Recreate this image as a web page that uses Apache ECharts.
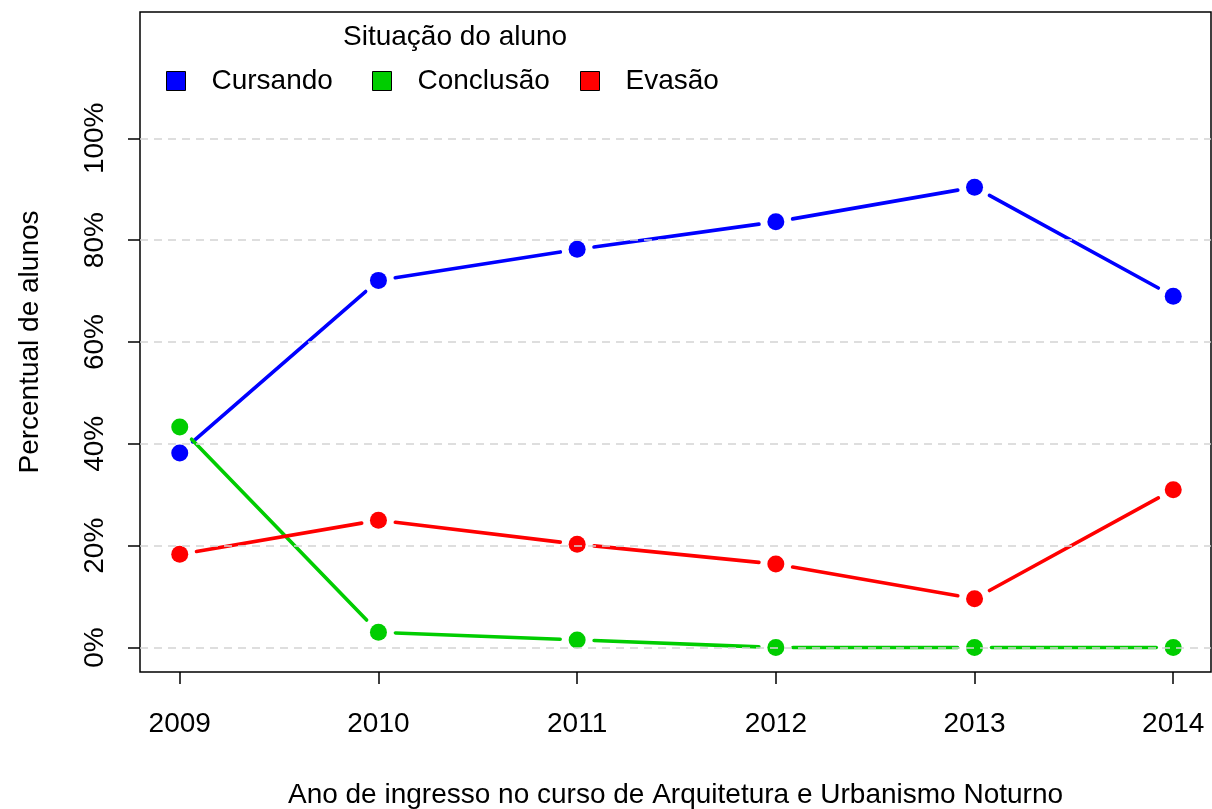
<!DOCTYPE html>
<html>
<head>
<meta charset="utf-8">
<script src="https://cdn.jsdelivr.net/npm/echarts@6/dist/echarts.min.js"></script>
<style>
  html, body { margin: 0; padding: 0; background: #fff; }
  #chart { width: 1212px; height: 809px; }
</style>
</head>
<body>
<div id="chart"></div>
<script>
// Ano de ingresso e situação dos alunos (%)
const anos = [2009, 2010, 2011, 2012, 2013, 2014];
const cursando = [38.2, 72.1, 78.2, 83.6, 90.4, 69.0];
const conclusao = [43.3, 3.0, 1.5, 0.0, 0.0, 0.0];
const evasao = [18.3, 25.0, 20.3, 16.4, 9.6, 31.0];
const yTicks = [0, 20, 40, 60, 80, 100];

const FONT = 'Liberation Sans, Arial, Helvetica, sans-serif';
const GAP = 17; // space left between a point and its connecting segments

const grupos = [
  { nome: 'Cursando', cor: '#0000FF', valores: cursando },
  { nome: 'Conclusão', cor: '#00CD00', valores: conclusao },
  { nome: 'Evasão', cor: '#FF0000', valores: evasao }
];

function segmentos(valores) {
  const out = [];
  for (let i = 0; i < anos.length - 1; i++) {
    out.push([anos[i], valores[i], anos[i + 1], valores[i + 1]]);
  }
  return out;
}

function linhaComFolga(cor) {
  return function (params, api) {
    const a = api.coord([api.value(0), api.value(1)]);
    const b = api.coord([api.value(2), api.value(3)]);
    const dx = b[0] - a[0], dy = b[1] - a[1];
    const len = Math.sqrt(dx * dx + dy * dy);
    if (len <= 2 * GAP) return null;
    const ux = dx / len, uy = dy / len;
    return {
      type: 'line',
      shape: {
        x1: a[0] + ux * GAP, y1: a[1] + uy * GAP,
        x2: b[0] - ux * GAP, y2: b[1] - uy * GAP
      },
      style: { stroke: cor, lineWidth: 3.6, lineCap: 'round' }
    };
  };
}

const series = [];
grupos.forEach(g => {
  series.push({
    name: g.nome,
    type: 'scatter',
    z: 3,
    symbol: 'circle',
    symbolSize: 17,
    itemStyle: { color: g.cor, opacity: 1 },
    emphasis: { disabled: true },
    data: anos.map((a, i) => [a, g.valores[i]])
  });
});
grupos.forEach(g => {
  series.push({
    name: g.nome,
    type: 'custom',
    z: 2,
    renderItem: linhaComFolga(g.cor),
    encode: { x: [0, 2], y: [1, 3] },
    data: segmentos(g.valores)
  });
});

const legendX = [166, 372, 580];
const legends = grupos.map((g, i) => ({
  data: [g.nome],
  left: legendX[i],
  top: 67,
  padding: 0,
  icon: 'rect',
  itemWidth: 19,
  itemHeight: 19,
  selectedMode: false,
  itemStyle: { borderColor: '#000', borderWidth: 1 },
  textStyle: {
    fontFamily: FONT, fontSize: 28, color: '#000',
    lineHeight: 28, padding: [0, 0, 0, 21]
  }
}));

const chart = echarts.init(document.getElementById('chart'));
chart.setOption({
  animation: false,
  backgroundColor: '#fff',
  title: {
    text: 'Situação do aluno',
    left: 343,
    top: 23,
    padding: 0,
    textStyle: { fontFamily: FONT, fontSize: 28, fontWeight: 'normal', color: '#000', lineHeight: 28 }
  },
  legend: legends,
  grid: {
    left: 140, right: 1, top: 12, bottom: 137,
    show: true, borderColor: '#000', borderWidth: 1.5,
    containLabel: false,
    outerBoundsMode: 'none'
  },
  xAxis: {
    type: 'value',
    min: 2008.8,
    max: 2014.19,
    name: 'Ano de ingresso no curso de Arquitetura e Urbanismo Noturno',
    nameLocation: 'middle',
    nameGap: 109,
    nameTextStyle: { fontFamily: FONT, fontSize: 28, color: '#000', lineHeight: 28 },
    axisLine: { show: false, onZero: false },
    axisTick: { show: true, length: 12, customValues: anos, lineStyle: { color: '#000', width: 1.5 } },
    axisLabel: {
      customValues: anos, margin: 38,
      fontFamily: FONT, fontSize: 28, color: '#000', lineHeight: 28,
      formatter: v => String(v)
    },
    splitLine: { show: false }
  },
  yAxis: {
    type: 'value',
    z: 5,
    min: -4.8,
    max: 124.8,
    name: 'Percentual de alunos',
    nameLocation: 'middle',
    nameGap: 96,
    nameTextStyle: { fontFamily: FONT, fontSize: 28, color: '#000', lineHeight: 28 },
    axisLine: { show: false, onZero: false },
    axisTick: { show: true, length: 12, customValues: yTicks, lineStyle: { color: '#000', width: 1.5 } },
    axisLabel: {
      customValues: yTicks, margin: 31, rotate: 90,
      fontFamily: FONT, fontSize: 28, color: '#000', lineHeight: 28,
      formatter: v => v + '%'
    },
    splitLine: {
      show: true,
      lineStyle: { color: '#d3d3d3', width: 1.5, type: [8, 6] }
    }
  },
  series: series
});
</script>
</body>
</html>
